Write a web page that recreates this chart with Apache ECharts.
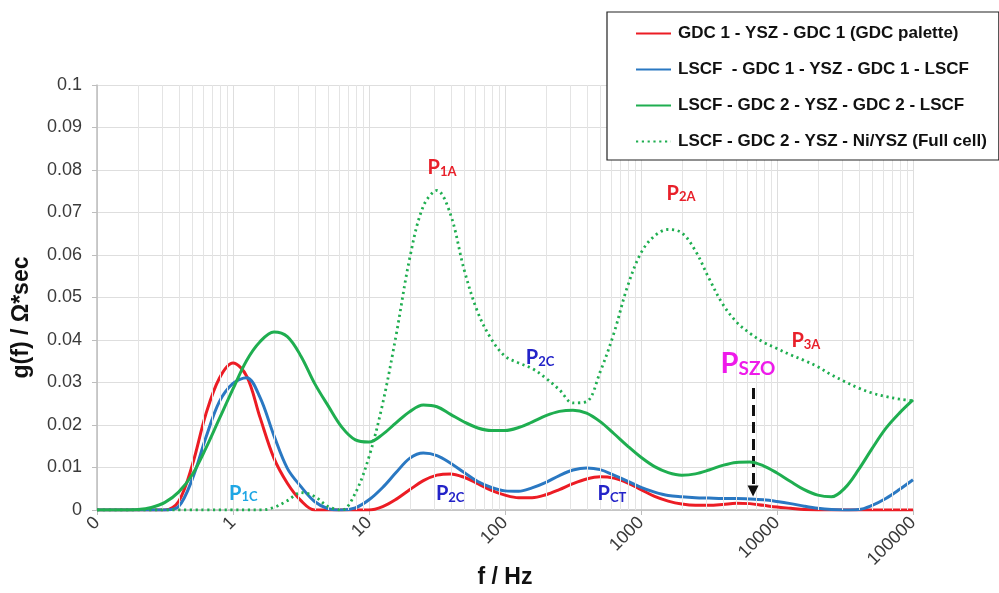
<!DOCTYPE html>
<html>
<head>
<meta charset="utf-8">
<script src="https://cdn.jsdelivr.net/npm/echarts@6/dist/echarts.min.js"></script>
<style>
  html, body { margin: 0; padding: 0; background: #fff; }
  #chart { width: 999px; height: 593px; }
</style>
</head>
<body>
<div id="chart"></div>
<script>
// Distribution of relaxation times g(f) vs frequency (Hz), g in Ohm*s
const seriesNames = [
  'GDC 1 - YSZ - GDC 1 (GDC palette)',
  'LSCF  - GDC 1 - YSZ - GDC 1 - LSCF',
  'LSCF - GDC 2 - YSZ - GDC 2 - LSCF',
  'LSCF - GDC 2 - YSZ - Ni/YSZ (Full cell)'
];

// sampling frequencies, ten per decade
const freq = [
  0.1, 0.126, 0.158, 0.2, 0.251, 0.316, 0.398, 0.501, 0.631, 0.794,
  1, 1.26, 1.58, 2, 2.51, 3.16, 3.98, 5.01, 6.31, 7.94,
  10, 12.6, 15.8, 20, 25.1, 31.6, 39.8, 50.1, 63.1, 79.4,
  100, 126, 158, 200, 251, 316, 398, 501, 631, 794,
  1000, 1259, 1585, 1995, 2512, 3162, 3981, 5012, 6310, 7943,
  10000, 12589, 15849, 19953, 25119, 31623, 39811, 50119, 63096, 79433,
  100000
];

const gdcPalette = [
  0, 0, 0, 0, 0, 0, 0.002, 0.0105, 0.0225, 0.031,
  0.0346, 0.0315, 0.0218, 0.0122, 0.0063, 0.0022, 0, 0, 0, 0,
  0, 0.0008, 0.0025, 0.0048, 0.0069, 0.0082, 0.0085, 0.0077, 0.0062, 0.0046,
  0.0035, 0.0029, 0.0029, 0.0036, 0.0048, 0.0062, 0.0073, 0.0078, 0.0075, 0.0064,
  0.0048, 0.0032, 0.0021, 0.0014, 0.0011, 0.0011, 0.0013, 0.0016, 0.0015, 0.0011,
  0.0007, 0.0004, 0.0001, 0, 0, 0, 0, 0, 0, 0,
  0
];

const lscfGdc1 = [
  0, 0, 0, 0, 0, 0, 0.0008, 0.0072, 0.017, 0.0255,
  0.0298, 0.0311, 0.0265, 0.0175, 0.0098, 0.0055, 0.002, 0.0003, 0, 0.0005,
  0.0024, 0.0053, 0.0088, 0.0122, 0.0134, 0.0128, 0.011, 0.0088, 0.0067, 0.0053,
  0.0045, 0.0044, 0.0052, 0.0065, 0.0081, 0.0094, 0.0099, 0.0095, 0.0082, 0.0068,
  0.0053, 0.0042, 0.0034, 0.0031, 0.0029, 0.0028, 0.0027, 0.0027, 0.0026, 0.0024,
  0.002, 0.0015, 0.0009, 0.0004, 0.0001, 0, 0.0001, 0.0011, 0.0027, 0.0048,
  0.0071
];

const lscfGdc2 = [
  0, 0, 0, 0.0001, 0.0006, 0.0018, 0.0042, 0.0083, 0.0145, 0.0215,
  0.0285, 0.0352, 0.0396, 0.0419, 0.0408, 0.0362, 0.0298, 0.0245, 0.0195, 0.0165,
  0.016, 0.0178, 0.0205, 0.0232, 0.0247, 0.0243, 0.0225, 0.0207, 0.0193, 0.0187,
  0.0187, 0.0194, 0.0207, 0.0222, 0.0232, 0.0235, 0.0228, 0.0208, 0.018, 0.0151,
  0.0124, 0.0102, 0.0088, 0.0082, 0.0085, 0.0094, 0.0105, 0.0112, 0.0113, 0.0104,
  0.0087, 0.0067, 0.0048, 0.0035, 0.0031, 0.0052, 0.0095, 0.0145, 0.0192, 0.0228,
  0.0259
];

const fullCell = [
  0, 0, 0, 0, 0, 0, 0, 0, 0, 0,
  0, 0, 0, 0.0006, 0.0022, 0.0041, 0.0032, 0.0008, 0, 0.004,
  0.0125, 0.025, 0.041, 0.0595, 0.0715, 0.0752, 0.0695, 0.0565, 0.0465, 0.0402,
  0.0362, 0.0346, 0.0333, 0.031, 0.0283, 0.0252, 0.0255, 0.0325, 0.0415, 0.0525,
  0.0605, 0.0645, 0.066, 0.0652, 0.061, 0.0545, 0.0485, 0.0443, 0.0416, 0.0395,
  0.038, 0.0365, 0.0352, 0.0337, 0.0318, 0.0302, 0.0287, 0.0275, 0.0267, 0.0261,
  0.0257
];

// Peak labels: [main letter, subscript, f, g, colour, big]
const peakLabels = [
  ['P', '1A', 34.4, 0.0807, '#e8202a', false],
  ['P', '2A', 1970, 0.0748, '#e8202a', false],
  ['P', '2C', 181, 0.036, '#2323c8', false],
  ['P', '3A', 16300, 0.040, '#e8202a', false],
  ['P', 'SZO', 6120, 0.0348, '#ee1bea', true],
  ['P', '1C', 1.19, 0.0042, '#1ea6e4', false],
  ['P', '2C', 39.5, 0.004, '#2323c8', false],
  ['P', 'CT', 612, 0.004, '#2323c8', false]
];

// Arrow pointing at the SZO feature: [f, gStart, gEnd]
const szoArrow = [6670, 0.0287, 0.0045];

const yTicks = { min: 0, max: 0.1, step: 0.01 };
const xRange = { min: 0.1, max: 100000 };

const colors = ['#ec1c24', '#2a78c2', '#1fae50', '#1fae50'];

// minor log grid lines at 2..9 of each decade
const minorLines = [];
for (let d = 0.1; d < xRange.max; d *= 10) {
  for (let k = 2; k <= 9; k++) minorLines.push({ xAxis: +(d * k).toPrecision(3) });
}

const labelFont = 'Lato, "Open Sans", sans-serif';
const markPoints = peakLabels.map(([p, sub, f, g, col, big]) => ({
  coord: [f, g],
  symbol: 'rect',
  symbolSize: 1,
  itemStyle: { color: 'rgba(0,0,0,0)' },
  label: {
    show: true,
    position: 'inside',
    formatter: '{p|' + p + '}{s|' + sub + '}',
    rich: {
      p: { fontFamily: labelFont, fontWeight: 'bold', fontSize: big ? 29 : 20, color: col, lineHeight: big ? 32 : 22, verticalAlign: 'bottom' },
      s: { fontFamily: labelFont, fontWeight: 'bold', fontSize: big ? 19 : 13, color: col, verticalAlign: 'bottom', lineHeight: big ? 24 : 16 }
    }
  }
}));

const chart = echarts.init(document.getElementById('chart'), null, { renderer: 'canvas' });

const lineSeries = [gdcPalette, lscfGdc1, lscfGdc2, fullCell].map((vals, i) => ({
  name: seriesNames[i],
  type: 'line',
  data: freq.map((f, j) => [f, vals[j]]),
  smooth: 0.35,
  symbol: 'none',
  lineStyle: i === 3
    ? { color: colors[i], width: 2.8, type: [2.2, 3.6] }
    : { color: colors[i], width: 3, type: 'solid' },
  itemStyle: { color: colors[i] },
  z: 3 + i
}));

const axisFont = '"Liberation Sans", Arial, sans-serif';

const option = {
  backgroundColor: '#ffffff',
  animation: false,
  textStyle: { fontFamily: axisFont },
  grid: { left: 97, right: 86, top: 85, bottom: 83, containLabel: false, outerBoundsMode: 'none' },
  legend: {
    data: seriesNames,
    orient: 'vertical',
    left: 607,
    top: 12,
    padding: [13, 12, 10, 28],
    itemGap: 19,
    itemWidth: 35,
    itemHeight: 18,
    itemStyle: { opacity: 0 },
    backgroundColor: '#ffffff',
    borderColor: '#222',
    borderWidth: 1.2,
    textStyle: { fontFamily: axisFont, fontWeight: 'bold', fontSize: 17, color: '#111', padding: [0, 0, 0, 2] },
    z: 10
  },
  xAxis: {
    type: 'log',
    logBase: 10,
    min: xRange.min,
    max: xRange.max,
    interval: 1,
    name: 'f / Hz',
    nameLocation: 'middle',
    nameGap: 56,
    nameMoveOverlap: false,
    nameTextStyle: { fontFamily: axisFont, fontWeight: 'bold', fontSize: 23, color: '#111' },
    axisLine: { show: true, lineStyle: { color: '#bdbdbd', width: 1.5 } },
    axisTick: { show: true, length: 5, lineStyle: { color: '#bdbdbd' } },
    axisLabel: {
      rotate: 45,
      fontSize: 18,
      color: '#3a3a3a',
      margin: 10,
      formatter: v => (v < 0.5 ? '0' : String(Math.round(v)))
    },
    splitLine: { show: true, lineStyle: { color: '#dedede', width: 1 } }
  },
  yAxis: {
    type: 'value',
    min: yTicks.min,
    max: yTicks.max,
    interval: yTicks.step,
    name: 'g(f) / Ω*sec',
    nameLocation: 'middle',
    nameGap: 64,
    nameMoveOverlap: false,
    nameTextStyle: { fontFamily: axisFont, fontWeight: 'bold', fontSize: 23, color: '#111', padding: [0, 0, 0, -40] },
    axisLine: { show: true, lineStyle: { color: '#bdbdbd', width: 1.5 } },
    axisTick: { show: true, length: 5, lineStyle: { color: '#bdbdbd' } },
    axisLabel: { fontSize: 18, color: '#3a3a3a', margin: 15 },
    splitLine: { show: true, lineStyle: { color: '#dedede', width: 1 } }
  },
  series: [
    {
      name: 'grid-minor',
      type: 'line',
      data: [],
      silent: true,
      markLine: {
        silent: true,
        symbol: ['none', 'none'],
        label: { show: false },
        lineStyle: { color: '#e4e4e4', width: 1, type: 'solid' },
        data: minorLines
      },
      z: 1
    },
    ...lineSeries,
    {
      name: 'annotations',
      type: 'line',
      data: [],
      silent: true,
      markPoint: { silent: true, data: markPoints },
      markLine: {
        silent: true,
        symbol: ['none', 'triangle'],
        symbolSize: 11,
        symbolRotate: 180,
        label: { show: false },
        lineStyle: { color: '#111', width: 3, type: [11, 6] },
        itemStyle: { color: '#111' },
        data: [[{ coord: [szoArrow[0], szoArrow[1]] }, { coord: [szoArrow[0], szoArrow[2]] }]]
      },
      z: 9
    }
  ]
};

chart.setOption(option);
</script>
</body>
</html>
